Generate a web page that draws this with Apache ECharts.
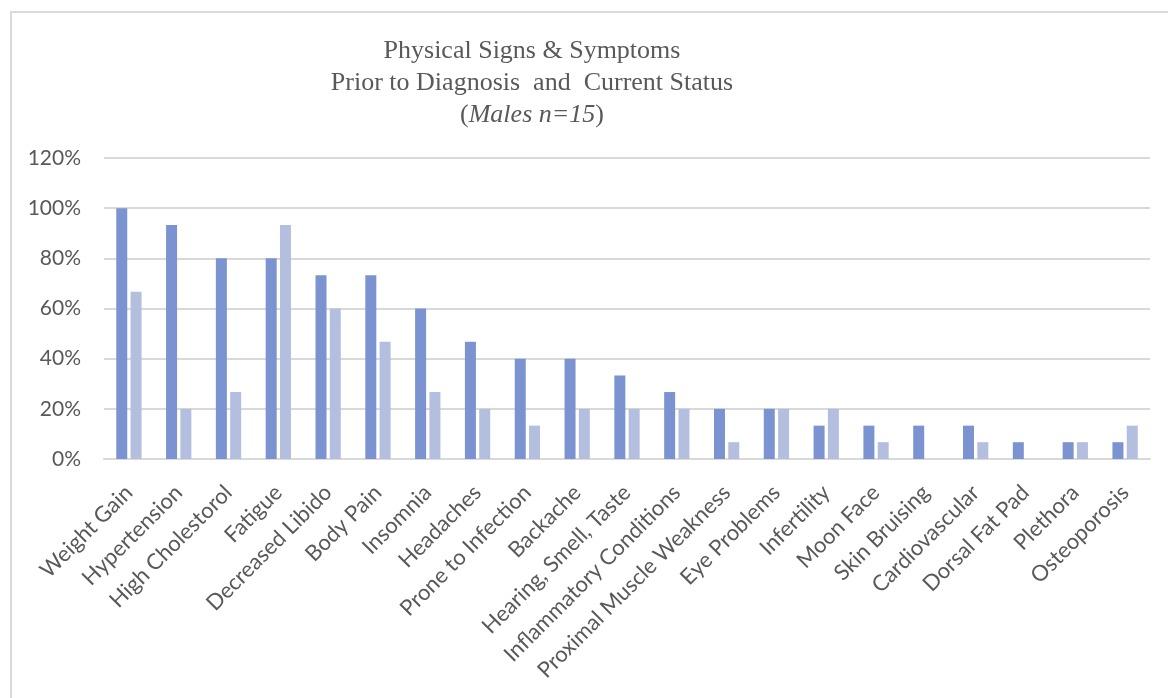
<!DOCTYPE html>
<html>
<head>
<meta charset="utf-8">
<script src="https://cdn.jsdelivr.net/npm/echarts@6/dist/echarts.min.js"></script>
<style>
    html, body { margin: 0; padding: 0; background: #fff; }
    #frame { position: absolute; left: 10px; top: 11px; width: 1180px; height: 720px; border: 2px solid #d9d9d9; box-sizing: border-box; }
    #main { position: absolute; left: 0; top: 0; width: 1168px; height: 698px; }
</style>
</head>
<body>
<div id="frame"></div>
<div id="main"></div>
<script>
var categories = ['Weight Gain', 'Hypertension', 'High Cholestorol', 'Fatigue', 'Decreased Libido',
    'Body Pain', 'Insomnia', 'Headaches', 'Prone to Infection', 'Backache', 'Hearing, Smell, Taste',
    'Inflammatory Conditions', 'Proximal Muscle Weakness', 'Eye Problems', 'Infertility', 'Moon Face',
    'Skin Bruising', 'Cardiovascular', 'Dorsal Fat Pad', 'Plethora', 'Osteoporosis'];
// 诊断前 (prior to diagnosis), 百分比
var priorValues = [100, 93.3, 80, 80, 73.3, 73.3, 60, 46.7, 40, 40, 33.3,
    26.7, 20, 20, 13.3, 13.3, 13.3, 13.3, 6.7, 6.7, 6.7];
// 当前状态 (current status)
var currentValues = [66.7, 20, 26.7, 93.3, 60, 46.7, 26.7, 20, 13.3, 20, 20,
    20, 6.7, 20, 20, 6.7, 0, 6.7, 0, 6.7, 13.3];
var titleLines = ['Physical Signs & Symptoms', 'Prior to Diagnosis  and  Current Status'];

var myChart = echarts.init(document.getElementById('main'));
myChart.setOption({
    animation: false,
    title: { //标题,三行
        text: titleLines[0] + '\n' + titleLines[1] + '\n({i|Males n=15})',
        left: 527,
        top: 30,
        textAlign: 'center',
        textStyle: {
            fontFamily: 'Liberation Serif',
            fontSize: 26,
            fontWeight: 'normal',
            color: '#595959',
            lineHeight: 32,
            rich: {
                i: { fontFamily: 'Liberation Serif', fontSize: 26, fontStyle: 'italic', color: '#595959' }
            }
        }
    },
    grid: {
        left: 104,
        right: 18,
        top: 158,
        bottom: 239
    },
    xAxis: {
        type: 'category',
        data: categories,
        axisTick: { show: false },
        axisLine: { lineStyle: { color: '#d9d9d9', width: 2 } },
        axisLabel: {
            interval: 0,
            rotate: 45,
            margin: 30,
            fontFamily: 'Lato',
            fontSize: 22,
            color: '#595959'
        }
    },
    yAxis: {
        type: 'value',
        min: 0,
        max: 120,
        interval: 20,
        axisLabel: {
            formatter: '{value}%',
            fontFamily: 'Lato',
            fontSize: 21,
            color: '#595959',
            margin: 23
        },
        splitLine: { lineStyle: { color: '#d9d9d9', width: 2 } }
    },
    series: [{
        name: 'Prior to Diagnosis',
        type: 'bar',
        data: priorValues,
        barWidth: 11,
        barGap: '30%',
        itemStyle: { color: '#7b93d0' }
    }, {
        name: 'Current Status',
        type: 'bar',
        data: currentValues,
        barWidth: 11,
        itemStyle: { color: '#b4bfe0' }
    }]
});
</script>
</body>
</html>
